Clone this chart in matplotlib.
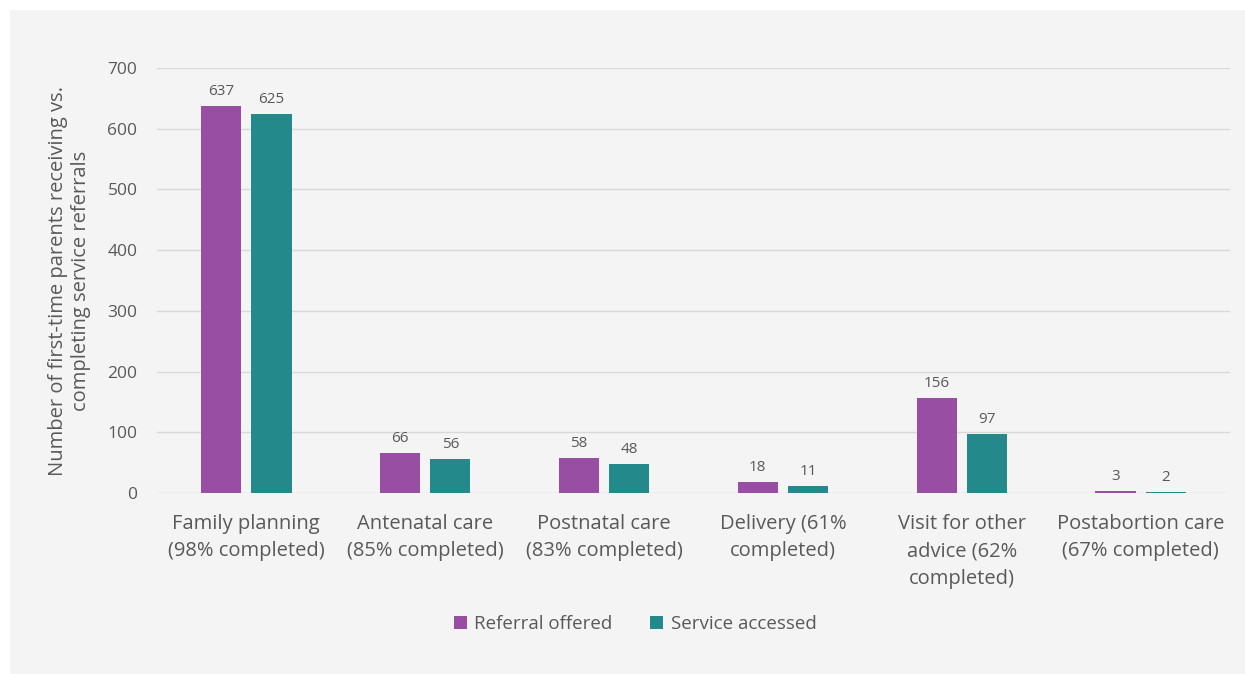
import numpy as np
import matplotlib.pyplot as plt
from matplotlib.patches import Rectangle

categories = ["Family planning\n(98% completed)", "Antenatal care\n(85% completed)",
              "Postnatal care\n(83% completed)", "Delivery (61%\ncompleted)",
              "Visit for other\nadvice (62%\ncompleted)", "Postabortion care\n(67% completed)"]
referral_offered = [637, 66, 58, 18, 156, 3]
service_accessed = [625, 56, 48, 11, 97, 2]

PURPLE = "#984ea3"
TEAL = "#23898a"
TEXT = "#595959"
BG = "#f4f4f4"

plt.rcParams['font.family'] = ['Open Sans', 'DejaVu Sans']

fig = plt.figure(figsize=(12.45, 6.74), dpi=100, facecolor="white")
fig.patches.append(Rectangle((10 / 1245, 0), 1, 1 - 10 / 674, transform=fig.transFigure,
                             facecolor=BG, edgecolor="none", zorder=-10))
ax = fig.add_axes([0.126, 0.2685, 0.862, 0.6305])
ax.set_facecolor(BG)

x = np.arange(len(categories))
w = 0.225
b1 = ax.bar(x - w / 2 - 0.028, referral_offered, w, color=PURPLE, label="Referral offered", zorder=3)
b2 = ax.bar(x + w / 2 + 0.028, service_accessed, w, color=TEAL, label="Service accessed", zorder=3)

for bars in (b1, b2):
    for r in bars:
        ax.annotate(f"{int(r.get_height())}", xy=(r.get_x() + r.get_width() / 2, r.get_height()),
                    xytext=(0, 5), textcoords="offset points", ha="center", va="bottom",
                    fontsize=11, color=TEXT)

ax.set_ylim(0, 700)
ax.set_xlim(-0.5, len(categories) - 0.5)
ax.set_yticks(range(0, 701, 100))
ax.yaxis.grid(True, color="#d9d9d9", lw=1, zorder=0)
for s in ax.spines.values():
    s.set_visible(False)
ax.tick_params(length=0)
ax.tick_params(axis="y", labelsize=12.5, labelcolor=TEXT, pad=14)
ax.set_xticks(x)
ax.set_xticklabels(categories, fontsize=14.5, color=TEXT, linespacing=1.5)
ax.tick_params(axis="x", pad=15)

ax.set_ylabel("Number of first-time parents receiving vs.\ncompleting service referrals",
              fontsize=14.5, color=TEXT, labelpad=12)

fig.legend(handles=[b1, b2], loc="center", bbox_to_anchor=(0.51, 0.074), ncol=2, frameon=False,
           fontsize=13.5, labelcolor=TEXT, handlelength=0.7, handleheight=0.7,
           handletextpad=0.4, columnspacing=2.0)

fig.savefig("out.png", dpi=100, facecolor="white")
